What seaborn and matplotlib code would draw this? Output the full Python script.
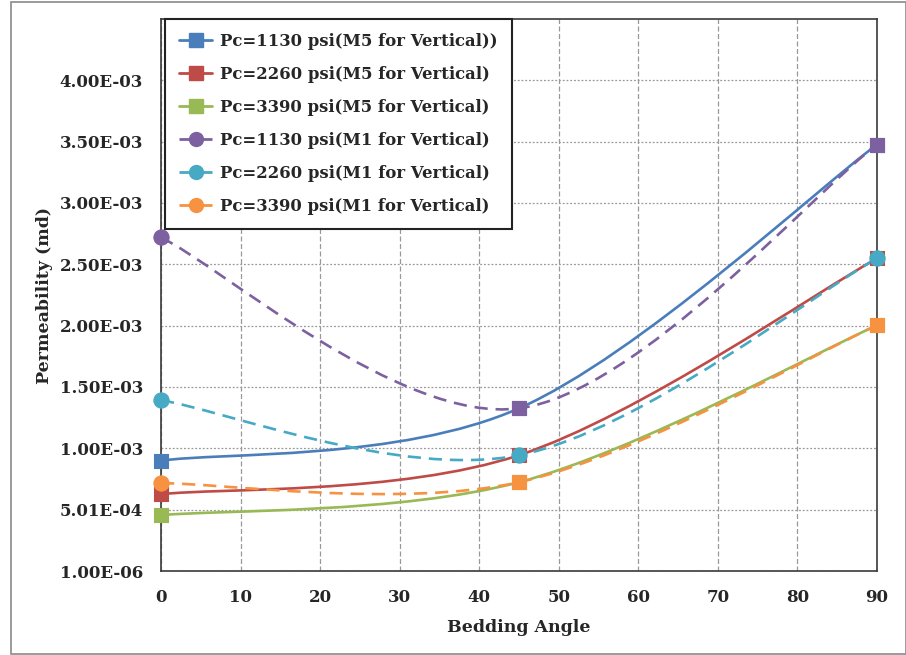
import numpy as np
import pandas as pd
import matplotlib
matplotlib.use("Agg")
import matplotlib.pyplot as plt
import seaborn as sns
from matplotlib.path import Path
from matplotlib.patches import PathPatch, Rectangle
from matplotlib.lines import Line2D
from matplotlib.ticker import FixedLocator, FuncFormatter

# ---- data ----
angles = [0, 45, 90]
m5_1130 = [9.00e-4, 1.327e-3, 3.477e-3]
m5_2260 = [6.27e-4, 9.45e-4, 2.549e-3]
m5_3390 = [4.56e-4, 7.25e-4, 2.003e-3]
m1_1130 = [2.720e-3, 1.327e-3, 3.477e-3]
m1_2260 = [1.393e-3, 9.45e-4, 2.549e-3]
m1_3390 = [7.17e-4, 7.25e-4, 2.003e-3]
series_names = [
    "Pc=1130 psi(M5 for Vertical))",
    "Pc=2260 psi(M5 for Vertical)",
    "Pc=3390 psi(M5 for Vertical)",
    "Pc=1130 psi(M1 for Vertical)",
    "Pc=2260 psi(M1 for Vertical)",
    "Pc=3390 psi(M1 for Vertical)",
]
series_values = [m5_1130, m5_2260, m5_3390, m1_1130, m1_2260, m1_3390]
x_ticks = [0, 10, 20, 30, 40, 50, 60, 70, 80, 90]
y_ticks = [1.0e-6 + k * 5.0e-4 for k in range(9)]

# ---- styles ----
colors = ["#4A7EBB", "#BE4B48", "#98B954", "#7D60A0", "#46AAC5", "#F69240"]
dashed = [False, False, False, True, True, True]
base_marker = ["s", "s", "s", "o", "o", "o"]
# markers shown at later points (overlapping squares in the original)
late_marker = ["s", "s", "s", "s", "o", "s"]

sns.set_style("white")
plt.rcParams["font.family"] = ["DejaVu Serif"]
plt.rcParams["font.weight"] = "bold"

fig = plt.figure(figsize=(9.06, 6.55), dpi=100)
ax = fig.add_axes([161/906, 1-571/655, (877-161)/906, (571-19)/655])

df = pd.DataFrame({
    "angle": np.tile(angles, len(series_names)),
    "perm": np.concatenate(series_values),
    "series": np.repeat(series_names, len(angles)),
})


def smooth_path(xs, ys):
    n = len(xs)
    verts = [(xs[0], ys[0])]
    codes = [Path.MOVETO]
    for i in range(n - 1):
        a = i - 1 if i > 0 else i
        d = i + 2 if i + 2 < n else i + 1
        c1 = (xs[i] + (xs[i+1] - xs[a]) / 6.0, ys[i] + (ys[i+1] - ys[a]) / 6.0)
        c2 = (xs[i+1] - (xs[d] - xs[i]) / 6.0, ys[i+1] - (ys[d] - ys[i]) / 6.0)
        verts += [c1, c2, (xs[i+1], ys[i+1])]
        codes += [Path.CURVE4] * 3
    return Path(verts, codes)


for i, name in enumerate(series_names):
    sub = df[df["series"] == name]
    xs = sub["angle"].to_numpy(float)
    ys = sub["perm"].to_numpy(float)
    ls = (0, (5, 3)) if dashed[i] else "solid"
    patch = PathPatch(smooth_path(xs, ys), fill=False, edgecolor=colors[i],
                      lw=1.9, linestyle=ls, zorder=3 + i, capstyle="butt")
    ax.add_patch(patch)
    first = sub.iloc[[0]]
    rest = sub.iloc[1:]
    ms = 110 if base_marker[i] == "s" else 120
    sns.scatterplot(data=first, x="angle", y="perm", ax=ax, color=colors[i],
                    marker=base_marker[i], s=ms, edgecolor=colors[i], linewidth=0.8,
                    clip_on=False, zorder=10 + i, legend=False)
    ms2 = 110 if late_marker[i] == "s" else 120
    sns.scatterplot(data=rest, x="angle", y="perm", ax=ax, color=colors[i],
                    marker=late_marker[i], s=ms2, edgecolor=colors[i], linewidth=0.8,
                    clip_on=False, zorder=10 + i, legend=False)

ax.set_xlim(0, 90)
ax.set_ylim(1.0e-6, 4.501e-3)
ax.xaxis.set_major_locator(FixedLocator(x_ticks))
ax.yaxis.set_major_locator(FixedLocator(y_ticks))
ax.yaxis.set_major_formatter(FuncFormatter(lambda v, p: "{:.2E}".format(v)))
ax.tick_params(axis="y", length=0, labelsize=12, pad=13)
ax.tick_params(axis="x", length=0, labelsize=12, pad=13)
for lab in ax.get_xticklabels() + ax.get_yticklabels():
    lab.set_fontweight("bold")
ax.grid(True, axis="x", color="#999999", linestyle=(0, (4, 2)), lw=0.9)
ax.grid(True, axis="y", color="#999999", linestyle=(0, (1.5, 1.5)), lw=0.9)
for sp in ax.spines.values():
    sp.set_color("#3a3a3a")
    sp.set_linewidth(1.2)

ax.set_xlabel("Bedding Angle", fontsize=12.5, fontweight="bold", labelpad=9)
ax.set_ylabel("Permeability (md)", fontsize=12.5, fontweight="bold", labelpad=5)

handles = []
for i, name in enumerate(series_names):
    handles.append(Line2D([0], [0], color=colors[i], lw=2.0,
                          linestyle=(0, (5, 3)) if dashed[i] else "solid",
                          marker=base_marker[i], markersize=10,
                          markerfacecolor=colors[i], markeredgecolor=colors[i]))
leg = ax.legend(handles, series_names, loc="upper left", bbox_to_anchor=(0.006, 1.0),
                borderaxespad=0.0,
                frameon=True, fancybox=False, edgecolor="#222222",
                prop={"weight": "bold", "size": 11.9}, handlelength=2.0,
                labelspacing=0.97, borderpad=0.85, handletextpad=0.45, framealpha=1)
leg.get_frame().set_linewidth(1.5)
leg.set_zorder(30)

fig.patches.append(Rectangle((11/906, 1/655), 894.5/906, 652/655, transform=fig.transFigure,
                             fill=False, edgecolor="#8a8a8a", lw=1.2))

fig.savefig("out.png", dpi=100)
